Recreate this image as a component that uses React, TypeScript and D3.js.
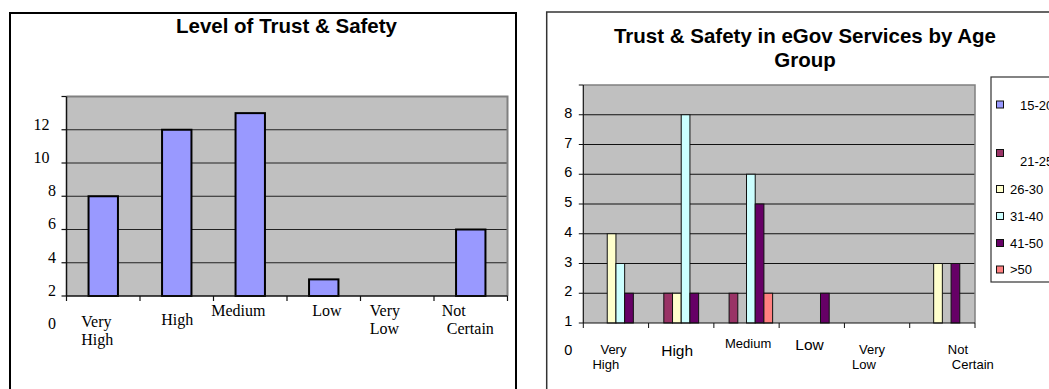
import React from "react";
import * as d3 from "d3";

// ---- data: overall trust level ----
const trustLevels = ["Very High", "High", "Medium", "Low", "Very Low", "Not Certain"];
const trustCounts = [8, 12, 13, 3, 0, 6];
const trustTicks = [2, 4, 6, 8, 10, 12];

// ---- data: trust level by age group ----
const ageGroups = ["15-20", "21-25", "26-30", "31-40", "41-50", ">50"];
const age15to20 = [0, 0, 0, 0, 0, 0];
const age21to25 = [0, 2, 2, 0, 0, 0];
const age26to30 = [4, 2, 0, 0, 0, 3];
const age31to40 = [3, 8, 6, 0, 0, 0];
const age41to50 = [2, 2, 5, 2, 0, 3];
const ageOver50 = [0, 0, 2, 0, 0, 0];
const ageSeries = [age15to20, age21to25, age26to30, age31to40, age41to50, ageOver50];
const ageTicks = [1, 2, 3, 4, 5, 6, 7, 8];

// ---- styling ----
const ageColors = ["#9999FF", "#993366", "#FFFFCC", "#CCFFFF", "#660066", "#FF8080"];
const SANS = "'Liberation Sans', Arial, sans-serif";
const SERIF = "'Liberation Serif', 'Times New Roman', serif";
const PLOT_BG = "#C0C0C0";
const PLOT_EDGE = "#808080";

// category label layout (line x offsets from band centre, baselines, font sizes)
const leftLabelLayout = [
  { dx: [-22, -22], y: [326.5, 345] },
  { dx: [-15.5], y: [325] },
  { dx: [-39], y: [316] },
  { dx: [-11.5], y: [316] },
  { dx: [-27.5, -27.5], y: [316, 333.5] },
  { dx: [-29, -24], y: [316, 334] },
];
const rightLabelLayout = [
  { dx: [-15.5, -23.5], y: [354, 369], size: 13 },
  { dx: [-20], y: [356], size: 15.5 },
  { dx: [-21.5], y: [348], size: 13 },
  { dx: [-16.5], y: [350], size: 15.5 },
  { dx: [-18, -25], y: [354, 369], size: 13 },
  { dx: [5.5, 9.5], y: [354, 369], size: 13 },
];
const legendLayout = [
  { sy: 104.5, tx: 1020, ty: 105 },
  { sy: 153, tx: 1020, ty: 161 },
  { sy: 189, tx: 1010, ty: 189 },
  { sy: 216, tx: 1010, ty: 216 },
  { sy: 243, tx: 1010, ty: 243 },
  { sy: 269.5, tx: 1010, ty: 269.5 },
];

function splitLabel(s: string): string[] {
  const i = s.indexOf(" ");
  return i < 0 ? [s] : [s.slice(0, i), s.slice(i + 1)];
}

function LevelChart() {
  const left = 66.5, right = 507.5, top = 96.5, bottom = 296;
  const y = d3.scaleLinear().domain([2, 14]).range([bottom, top]);
  const x = d3
    .scaleBand<string>()
    .domain(trustLevels)
    .range([left, right])
    .paddingInner(0.6)
    .paddingOuter(0.3);
  const step = x.step();
  const bounds = d3.range(trustLevels.length + 1).map((i) => left + i * step);
  const tickVals = d3.range(2, 15, 2);

  return (
    <g>
      <rect x={10} y={13} width={506} height={400} fill="#fff" stroke="#000" strokeWidth={2} />
      <text x={286.5} y={32.5} textAnchor="middle" fontFamily={SANS} fontWeight="bold" fontSize={20.5}>
        Level of Trust &amp; Safety
      </text>
      <rect x={left} y={top} width={right - left} height={bottom - top} fill={PLOT_BG} />
      {tickVals.slice(1, -1).map((v) => (
        <line key={v} x1={left} x2={right} y1={y(v)} y2={y(v)} stroke="#222" strokeWidth={1} />
      ))}
      <path d={`M${left},${top}H${right}V${bottom}`} fill="none" stroke={PLOT_EDGE} strokeWidth={2} />
      {trustLevels.map((c, i) =>
        trustCounts[i] > 2 ? (
          <rect
            key={c}
            x={x(c)}
            y={y(trustCounts[i])}
            width={x.bandwidth()}
            height={y(2) - y(trustCounts[i])}
            fill="#9999FF"
            stroke="#000"
            strokeWidth={2}
          />
        ) : null
      )}
      <line x1={left} x2={left} y1={top} y2={bottom} stroke="#111" strokeWidth={1.5} />
      <line x1={left} x2={right} y1={bottom} y2={bottom} stroke="#111" strokeWidth={1.5} />
      {tickVals.map((v) => (
        <line key={v} x1={left - 5} x2={left} y1={y(v)} y2={y(v)} stroke="#111" strokeWidth={1.2} />
      ))}
      {bounds.map((b, i) => (
        <line key={i} x1={b} x2={b} y1={bottom} y2={bottom + 5} stroke="#111" strokeWidth={1.2} />
      ))}
      {[0, ...trustTicks].map((v) => (
        <text
          key={v}
          x={String(v).length > 1 ? left - 17 : left - 10.5}
          y={y(v) - 5.5}
          dy="0.34em"
          textAnchor="end"
          fontFamily={SERIF}
          fontSize={16}
        >
          {v}
        </text>
      ))}
      {trustLevels.map((c, i) => {
        const cx = (x(c) as number) + x.bandwidth() / 2;
        const lay = leftLabelLayout[i];
        return splitLabel(c).map((line, j) => (
          <text key={c + j} x={cx + lay.dx[j]} y={lay.y[j]} fontFamily={SERIF} fontSize={16}>
            {line}
          </text>
        ));
      })}
    </g>
  );
}

function AgeChart() {
  const left = 583.3, right = 975, top = 85, bottom = 323;
  const y = d3.scaleLinear().domain([1, 9]).range([bottom, top]);
  const x0 = d3.scaleBand<string>().domain(trustLevels).range([left, right]);
  const x1 = d3
    .scaleBand<string>()
    .domain(ageGroups)
    .range([0, x0.bandwidth()])
    .paddingInner(0)
    .paddingOuter(0.75);
  const bounds = d3.range(trustLevels.length + 1).map((i) => left + i * x0.step());
  const tickVals = d3.range(1, 10);

  return (
    <g>
      <rect x={546.7} y={12} width={520} height={400} fill="#fff" stroke="#333" strokeWidth={1.5} />
      <text textAnchor="middle" fontFamily={SANS} fontWeight="bold" fontSize={20.5}>
        <tspan x={805} y={42.7}>Trust &amp; Safety in eGov Services by Age</tspan>
        <tspan x={805} y={66.7}>Group</tspan>
      </text>
      <rect x={left} y={top} width={right - left} height={bottom - top} fill={PLOT_BG} />
      {tickVals.slice(1, -1).map((v) => (
        <line key={v} x1={left} x2={right} y1={y(v)} y2={y(v)} stroke="#111" strokeWidth={1} />
      ))}
      <path d={`M${left},${top}H${right}V${bottom}`} fill="none" stroke={PLOT_EDGE} strokeWidth={1.5} />
      {trustLevels.map((c, i) => (
        <g key={c} transform={`translate(${x0(c)},0)`}>
          {ageGroups.map((a, k) => {
            const v = ageSeries[k][i];
            if (v <= 1) return null;
            return (
              <rect
                key={a}
                x={x1(a)}
                y={y(v)}
                width={x1.bandwidth()}
                height={y(1) - y(v)}
                fill={ageColors[k]}
                stroke="#111"
                strokeWidth={1}
              />
            );
          })}
        </g>
      ))}
      <line x1={left} x2={left} y1={top} y2={bottom} stroke="#111" strokeWidth={1.2} />
      <line x1={left} x2={right} y1={bottom} y2={bottom} stroke="#111" strokeWidth={1.2} />
      {tickVals.map((v) => (
        <line key={v} x1={left - 4.5} x2={left} y1={y(v)} y2={y(v)} stroke="#111" strokeWidth={1} />
      ))}
      {bounds.map((b, i) => (
        <line key={i} x1={b} x2={b} y1={bottom} y2={bottom + 5} stroke="#111" strokeWidth={1} />
      ))}
      {[0, ...ageTicks].map((v) => (
        <text
          key={v}
          x={left - 11}
          y={v === 0 ? y(v) - 3 : y(v) - 2}
          dy="0.36em"
          textAnchor="end"
          fontFamily={SANS}
          fontSize={14.5}
        >
          {v}
        </text>
      ))}
      {trustLevels.map((c, i) => {
        const cx = (x0(c) as number) + x0.bandwidth() / 2;
        const lay = rightLabelLayout[i];
        return splitLabel(c).map((line, j) => (
          <text key={c + j} x={cx + lay.dx[j]} y={lay.y[j]} fontFamily={SANS} fontSize={lay.size}>
            {line}
          </text>
        ));
      })}
      <rect x={991} y={77} width={80} height={205} fill="#fff" stroke="#333" strokeWidth={1.2} />
      {ageGroups.map((a, k) => {
        const lay = legendLayout[k];
        return (
          <g key={a}>
            <rect x={996.5} y={lay.sy - 3.5} width={7} height={7} fill={ageColors[k]} stroke="#111" strokeWidth={1} />
            <text x={lay.tx} y={lay.ty} dy="0.35em" fontFamily={SANS} fontSize={13}>
              {a}
            </text>
          </g>
        );
      })}
    </g>
  );
}

export default function App() {
  return (
    <svg
      width={1049}
      height={389}
      viewBox="0 0 1049 389"
      style={{ position: "absolute", left: 0, top: 0, background: "#fff" }}
    >
      <LevelChart />
      <AgeChart />
    </svg>
  );
}
